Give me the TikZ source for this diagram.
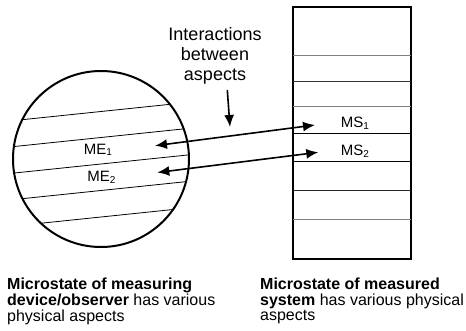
\documentclass[tikz,border=0pt]{standalone}
\usepackage{fontspec}
\setmainfont{Liberation Sans}
\usetikzlibrary{arrows.meta}
\begin{document}
\begin{tikzpicture}[x=1pt,y=-1pt,
 arr/.style={line width=1.6pt,-{Latex[length=12pt,width=10pt]}},
 darr/.style={line width=1.6pt,{Latex[length=12pt,width=10pt]}-{Latex[length=12pt,width=10pt]}},
 lbl/.style={font=\fontsize{15}{15}\selectfont, inner sep=0pt},
 capt/.style={font=\fontsize{16}{15}\selectfont, anchor=base west, inner sep=0pt},
 rowline/.style={line width=0.8pt}]
\useasboundingbox (0,0) rectangle (466,331);
% measuring device circle
\node[circle, draw, line width=2pt, minimum size=176pt, inner sep=0pt] (dev) at (101,159) {};
\begin{scope}
\clip (101,159) circle (88pt);
\foreach \c in {111.5,137.5,164,190.5,217}
  \draw[rowline] (0,{\c+0.104*101}) -- (220,{\c-0.104*119});
\end{scope}
% measured system rectangle
\node[draw, line width=1.8pt, minimum width=118pt, minimum height=252pt, inner sep=0pt] (sys) at (352,133.3) {};
\foreach \y/\col in {55.7/gray,81/black!80,106.7/gray,133.3/black,161.3/black,190.3/black!85,219.3/gray}
  \draw[rowline,\col] (293,\y) -- (411,\y);
% labels
\node[lbl] (me1) at (98,150) {ME{\fontsize{10}{10}\selectfont\raisebox{-1.5pt}{1}}};
\node[lbl] (me2) at (101.5,177.5) {ME{\fontsize{10}{10}\selectfont\raisebox{-1.5pt}{2}}};
\node[lbl] (ms1) at (355,123.3) {MS{\fontsize{10}{10}\selectfont\raisebox{-1.5pt}{1}}};
\node[lbl] (ms2) at (355,151.5) {MS{\fontsize{10}{10}\selectfont\raisebox{-1.5pt}{2}}};
% arrow ends
\coordinate (a1l) at (155,145.7);
\coordinate (a1r) at (315,125);
\coordinate (a2l) at (157.3,172.5);
\coordinate (a2r) at (318.3,152.3);
\draw[darr] (a1l) -- (a1r);
\draw[darr] (a2l) -- (a2r);
% interactions
\node[font=\fontsize{18}{19.7}\selectfont, anchor=base, inner sep=0pt] (inter) at (215,41)
  {\renewcommand\arraystretch{1}\begin{tabular}[t]{@{}c@{}}Interactions\\between\\aspects\end{tabular}};
\coordinate (ia) at (227.3,90);
\coordinate (ib) at (230,127);
\draw[arr] (ia) -- (ib);
% captions
\node[capt] (capl) at (7,289) {\renewcommand\arraystretch{1}\begin{tabular}[t]{@{}l@{}}\textbf{Microstate of measuring}\\\textbf{device/observer} has various\\physical aspects\end{tabular}};
\node[capt] (capr) at (260,289) {\renewcommand\arraystretch{1}\begin{tabular}[t]{@{}l@{}}\textbf{Microstate of measured}\\\textbf{system} has various physical\\aspects\end{tabular}};
\end{tikzpicture}
\end{document}
